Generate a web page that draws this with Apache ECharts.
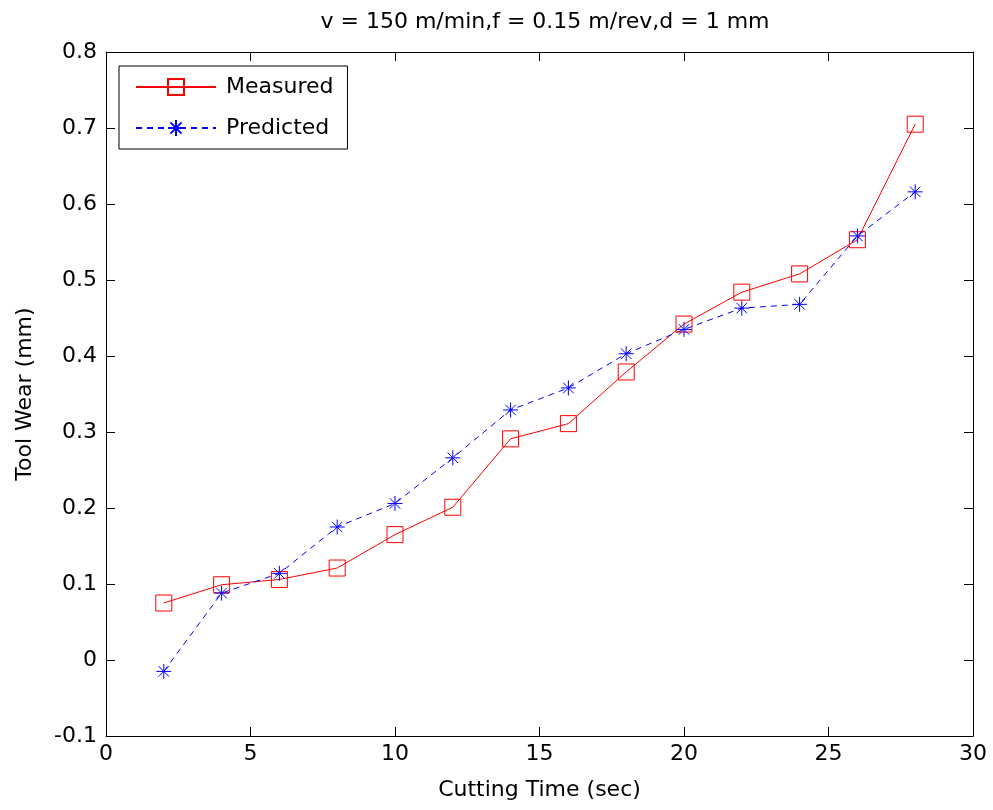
<!DOCTYPE html>
<html>
<head>
<meta charset="utf-8">
<script src="https://cdn.jsdelivr.net/npm/echarts@6/dist/echarts.min.js"></script>
<style>
html,body{margin:0;padding:0;background:#fff;}
#chart{width:993px;height:810px;}
</style>
</head>
<body>
<div id="chart"></div>
<script>
var cuttingTime = [2, 4, 6, 8, 10, 12, 14, 16, 18, 20, 22, 24, 26, 28];
var measured = [0.075, 0.099, 0.106, 0.121, 0.165, 0.201, 0.291, 0.311, 0.379, 0.442, 0.484, 0.508, 0.553, 0.705];
var predicted = [-0.015, 0.088, 0.114, 0.175, 0.206, 0.266, 0.329, 0.358, 0.403, 0.435, 0.463, 0.468, 0.558, 0.616];
var xTicks = [0, 5, 10, 15, 20, 25, 30];
var yTicks = [-0.1, 0, 0.1, 0.2, 0.3, 0.4, 0.5, 0.6, 0.7, 0.8];
var titleText = 'v = 150 m/min,f = 0.15 m/rev,d = 1 mm';
var xName = 'Cutting Time (sec)';
var yName = 'Tool Wear (mm)';
var seriesNames = ['Measured', 'Predicted'];

var FONT = 'DejaVu Sans';
var FS = 22;

function pairs(xs, ys) { return xs.map(function (x, i) { return [x, ys[i]]; }); }

var starPath = 'path://M10,0L10,20M0,10L20,10M3,3L17,17M3,17L17,3';

function axisCommon(showLabel) {
  return {
    axisLine: { show: true, onZero: false, lineStyle: { color: '#000', width: 1 } },
    axisTick: { show: true, inside: true, length: 9, lineStyle: { color: '#000', width: 1 } },
    splitLine: { show: false },
    axisLabel: {
      show: showLabel, color: '#000', fontFamily: FONT, fontSize: FS
    }
  };
}

function mkX(pos, showLabel) {
  var a = axisCommon(showLabel);
  a.type = 'value'; a.position = pos;
  a.min = xTicks[0]; a.max = xTicks[xTicks.length - 1]; a.interval = xTicks[1] - xTicks[0];
  a.axisLabel.margin = 7;
  if (showLabel) {
    a.name = xName; a.nameLocation = 'middle'; a.nameGap = 43;
    a.nameTextStyle = { color: '#000', fontFamily: FONT, fontSize: FS };
  }
  return a;
}
function mkY(pos, showLabel) {
  var a = axisCommon(showLabel);
  a.type = 'value'; a.position = pos;
  a.min = yTicks[0]; a.max = yTicks[yTicks.length - 1]; a.interval = 0.1;
  a.axisLabel.margin = 9;
  a.axisLabel.formatter = function (v) { var s = (+v.toFixed(1)); return String(s); };
  if (showLabel) {
    a.name = yName; a.nameLocation = 'middle'; a.nameGap = 70;
    a.nameTextStyle = { color: '#000', fontFamily: FONT, fontSize: FS };
  }
  return a;
}

var chart = echarts.init(document.getElementById('chart'), null, { renderer: 'canvas' });
chart.setOption({
  animation: false,
  backgroundColor: '#fff',
  title: {
    text: titleText, left: 540, top: 6, textAlign: 'center',
    textStyle: { color: '#000', fontFamily: FONT, fontSize: FS, fontWeight: 'normal' }
  },
  grid: { left: 106, right: 20, top: 52, bottom: 74, containLabel: false },
  legend: {
    orient: 'vertical', left: 119, top: 66,
    backgroundColor: '#fff', borderColor: '#000', borderWidth: 1, borderRadius: 0,
    padding: [10, 14, 10, 16], itemWidth: 80, itemHeight: 20, itemGap: 19,
    textStyle: { color: '#000', fontFamily: FONT, fontSize: FS, padding: [0, 0, 0, 5] },
    data: seriesNames
  },
  xAxis: [mkX('bottom', true), mkX('top', false)],
  yAxis: [mkY('left', true), mkY('right', false)],
  series: [
    {
      name: seriesNames[0], type: 'line', xAxisIndex: 0, yAxisIndex: 0,
      data: pairs(cuttingTime, measured),
      symbol: 'rect', symbolSize: 16, showSymbol: true,
      lineStyle: { color: '#ff0000', width: 1 },
      itemStyle: { color: 'rgba(255,255,255,0)', borderColor: '#ff0000', borderWidth: 1 },
      color: '#ff0000'
    },
    {
      name: seriesNames[1], type: 'line', xAxisIndex: 0, yAxisIndex: 0,
      data: pairs(cuttingTime, predicted),
      symbol: starPath, symbolSize: 15, showSymbol: true,
      lineStyle: { color: '#0000ff', width: 1, type: [6, 5] },
      itemStyle: { color: '#0000ff', borderColor: '#0000ff', borderWidth: 1 },
      color: '#0000ff'
    }
  ]
});
</script>
</body>
</html>
